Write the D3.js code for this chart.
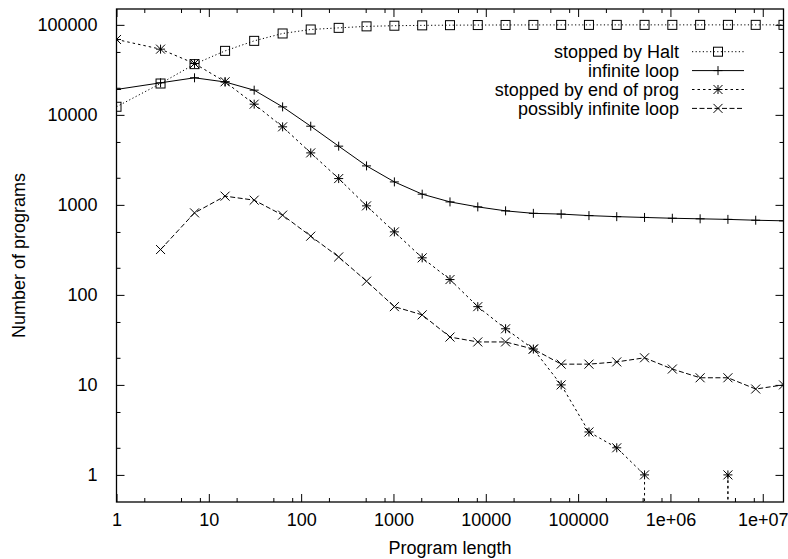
<!DOCTYPE html>
<html>
<head>
<meta charset="utf-8">
<script src="https://cdn.jsdelivr.net/npm/d3@7"></script>
<style>
  html, body { margin: 0; padding: 0; background: #fff; }
  svg { display: block; font-family: "Liberation Sans", Arial, Helvetica, sans-serif; }
</style>
</head>
<body>
<svg id="chart" width="788" height="559"></svg>
<script>
// ---------- data ----------
const programLength = [1, 3, 7, 15, 31, 63, 127, 255, 511, 1023, 2047, 4095, 8191, 16383,
  32767, 65535, 131071, 262143, 524287, 1048575, 2097151, 4194303, 8388607, 16777215];

const stoppedByHalt = [12300, 22300, 36600, 51400, 66400, 80200, 88800, 92600, 96200, 97800,
  98700, 99200, 99500, 99700, 99800, 99850, 99900, 99920, 99940, 99950, 99960, 99970, 99980, 99990];

const infiniteLoop = [19150, 22700, 25800, 23200, 18800, 12270, 7480, 4490, 2710, 1800,
  1315, 1079, 950, 858, 805, 790, 760, 740, 725, 710, 700, 690, 675, 665];

// 0 = no programs (drawn by gnuplot as a drop to the bottom border on log scale)
const stoppedByEndOfProg = [68800, 53700, 37200, 23300, 13150, 7360, 3780, 1960, 975, 501,
  258, 148, 74, 42, 25, 10, 3, 2, 1, 0, 0, 1, 0, 0];

// null = not plotted
const possiblyInfiniteLoop = [null, 319, 815, 1250, 1128, 769, 449, 264, 142, 74,
  60, 34, 30, 30, 25, 17, 17, 18, 20, 15, 12, 12, 9, 10];

const seriesNames = ["stopped by Halt", "infinite loop", "stopped by end of prog", "possibly infinite loop"];
const xTickValues = [1, 10, 100, 1000, 10000, 100000, 1e6, 1e7];
const xTickLabels = ["1", "10", "100", "1000", "10000", "100000", "1e+06", "1e+07"];
const yTickValues = [1, 10, 100, 1000, 10000, 100000];
const yTickLabels = ["1", "10", "100", "1000", "10000", "100000"];
const xMinorMultipliers = [2, 5, 8];
const yMinorMultipliers = [2, 5];
const xDomain = [1, 16777215];
const yDomain = [0.5, 150000];

// ---------- layout ----------
const L = 116.5, R = 783.5, T = 9, B = 502;
const svg = d3.select("#chart");
const x = d3.scaleLog().domain(xDomain).range([L, R]);
const y = d3.scaleLog().domain(yDomain).range([B, T]);

const FS = 18;

// ---------- ticks ----------
const minorX = [];
for (let d = 1; d <= 1e7; d *= 10) xMinorMultipliers.forEach(m => { const v = m * d; if (v > xDomain[0] && v < xDomain[1]) minorX.push(v); });
const minorY = [];
for (let d = 0.1; d <= 1e5; d *= 10) yMinorMultipliers.forEach(m => { const v = +(m * d).toPrecision(6); if (v > yDomain[0] && v < yDomain[1]) minorY.push(v); });

const axisBottom = d3.axisBottom(x).tickValues(xTickValues).tickFormat((d, i) => xTickLabels[i]).tickSize(-8).tickPadding(18);
const axisTop = d3.axisTop(x).tickValues(xTickValues).tickFormat("").tickSize(-8);
const axisLeft = d3.axisLeft(y).tickValues(yTickValues).tickFormat((d, i) => yTickLabels[i]).tickSize(-8).tickPadding(19);
const axisRight = d3.axisRight(y).tickValues(yTickValues).tickFormat("").tickSize(-8);

const mAxisBottom = d3.axisBottom(x).tickValues(minorX).tickFormat("").tickSize(-4);
const mAxisTop = d3.axisTop(x).tickValues(minorX).tickFormat("").tickSize(-4);
const mAxisLeft = d3.axisLeft(y).tickValues(minorY).tickFormat("").tickSize(-4);
const mAxisRight = d3.axisRight(y).tickValues(minorY).tickFormat("").tickSize(-4);

function styleAxis(g) {
  g.select(".domain").remove();
  g.selectAll(".tick line").attr("stroke", "#000").attr("stroke-width", 1);
  g.selectAll(".tick text").attr("fill", "#000").attr("font-size", FS).attr("font-family", "Liberation Sans, Arial, sans-serif");
}

svg.append("g").attr("transform", `translate(0,${B})`).call(axisBottom).call(styleAxis)
  .selectAll(".tick text").attr("dy", "0.35em").attr("y", 18);
svg.append("g").attr("transform", `translate(0,${T})`).call(axisTop).call(styleAxis);
svg.append("g").attr("transform", `translate(${L},0)`).call(axisLeft).call(styleAxis);
svg.append("g").attr("transform", `translate(${R},0)`).call(axisRight).call(styleAxis);
svg.append("g").attr("transform", `translate(0,${B})`).call(mAxisBottom).call(styleAxis);
svg.append("g").attr("transform", `translate(0,${T})`).call(mAxisTop).call(styleAxis);
svg.append("g").attr("transform", `translate(${L},0)`).call(mAxisLeft).call(styleAxis);
svg.append("g").attr("transform", `translate(${R},0)`).call(mAxisRight).call(styleAxis);

// ---------- clip ----------
svg.append("defs").append("clipPath").attr("id", "plotclip")
  .append("rect").attr("x", L).attr("y", T).attr("width", R - L).attr("height", B - T);

// ---------- series ----------
const series = [
  { name: seriesNames[0], values: stoppedByHalt, dash: "1.2,2.4", marker: "square" },
  { name: seriesNames[1], values: infiniteLoop, dash: null, marker: "plus" },
  { name: seriesNames[2], values: stoppedByEndOfProg, dash: "2.5,3", marker: "star" },
  { name: seriesNames[3], values: possiblyInfiniteLoop, dash: "5,2.5", marker: "cross" }
];

const S = 4.5;
function drawMarker(g, type, cx, cy) {
  const m = g.append("g").attr("fill", "none").attr("stroke", "#000").attr("stroke-width", 1);
  if (type === "square") {
    m.append("rect").attr("x", cx - S).attr("y", cy - S).attr("width", 2 * S).attr("height", 2 * S);
  }
  if (type === "plus" || type === "star") {
    m.append("line").attr("x1", cx - S).attr("x2", cx + S).attr("y1", cy).attr("y2", cy);
    m.append("line").attr("x1", cx).attr("x2", cx).attr("y1", cy - S).attr("y2", cy + S);
  }
  if (type === "cross" || type === "star") {
    m.append("line").attr("x1", cx - S).attr("x2", cx + S).attr("y1", cy - S).attr("y2", cy + S);
    m.append("line").attr("x1", cx - S).attr("x2", cx + S).attr("y1", cy + S).attr("y2", cy - S);
  }
}

const plot = svg.append("g").attr("clip-path", "url(#plotclip)");
series.forEach(s => {
  const g = plot.append("g");
  const segs = [];
  for (let i = 0; i < programLength.length - 1; i++) {
    const a = s.values[i], b = s.values[i + 1];
    if (a == null || b == null) continue;
    if (a > 0 && b > 0) {
      segs.push([[x(programLength[i]), y(a)], [x(programLength[i + 1]), y(b)]]);
    } else if (a > 0 && b === 0) {
      segs.push([[x(programLength[i]), y(a)], [x(programLength[i]), B]]);
    } else if (a === 0 && b > 0) {
      segs.push([[x(programLength[i + 1]), y(b)], [x(programLength[i + 1]), B]]);
    }
  }
  // join consecutive segments into polylines
  const paths = [];
  segs.forEach(sg => {
    const last = paths[paths.length - 1];
    if (last && Math.abs(last[last.length - 1][0] - sg[0][0]) < 0.01 && Math.abs(last[last.length - 1][1] - sg[0][1]) < 0.01) last.push(sg[1]);
    else paths.push([sg[0], sg[1]]);
  });
  const line = d3.line();
  paths.forEach(p => {
    g.append("path").attr("d", line(p)).attr("fill", "none").attr("stroke", "#000")
      .attr("stroke-width", 1).attr("stroke-dasharray", s.dash);
  });
  programLength.forEach((xv, i) => {
    const v = s.values[i];
    if (v != null && v > 0) drawMarker(g, s.marker, x(xv), y(v));
  });
});

// ---------- border ----------
svg.append("rect").attr("x", L).attr("y", T).attr("width", R - L).attr("height", B - T)
  .attr("fill", "none").attr("stroke", "#000").attr("stroke-width", 1.3);

// ---------- legend ----------
const legTextX = 679, legY0 = 51.7, legDy = 18.9, legX1 = 692, legX2 = 744;
series.forEach((s, i) => {
  const ly = legY0 + i * legDy;
  svg.append("text").attr("x", legTextX).attr("y", ly).attr("dy", "0.35em").attr("text-anchor", "end")
    .attr("font-size", FS).attr("fill", "#000").text(s.name);
  svg.append("line").attr("x1", legX1).attr("x2", legX2).attr("y1", ly).attr("y2", ly)
    .attr("stroke", "#000").attr("stroke-width", 1).attr("stroke-dasharray", s.dash);
  drawMarker(svg, s.marker, (legX1 + legX2) / 2, ly);
});

// ---------- axis titles ----------
svg.append("text").attr("x", (L + R) / 2).attr("y", 554).attr("text-anchor", "middle")
  .attr("font-size", FS).attr("fill", "#000").text("Program length");
svg.append("text").attr("transform", `translate(25,${(T + B) / 2}) rotate(-90)`).attr("text-anchor", "middle")
  .attr("font-size", FS).attr("fill", "#000").text("Number of programs");
</script>
</body>
</html>
